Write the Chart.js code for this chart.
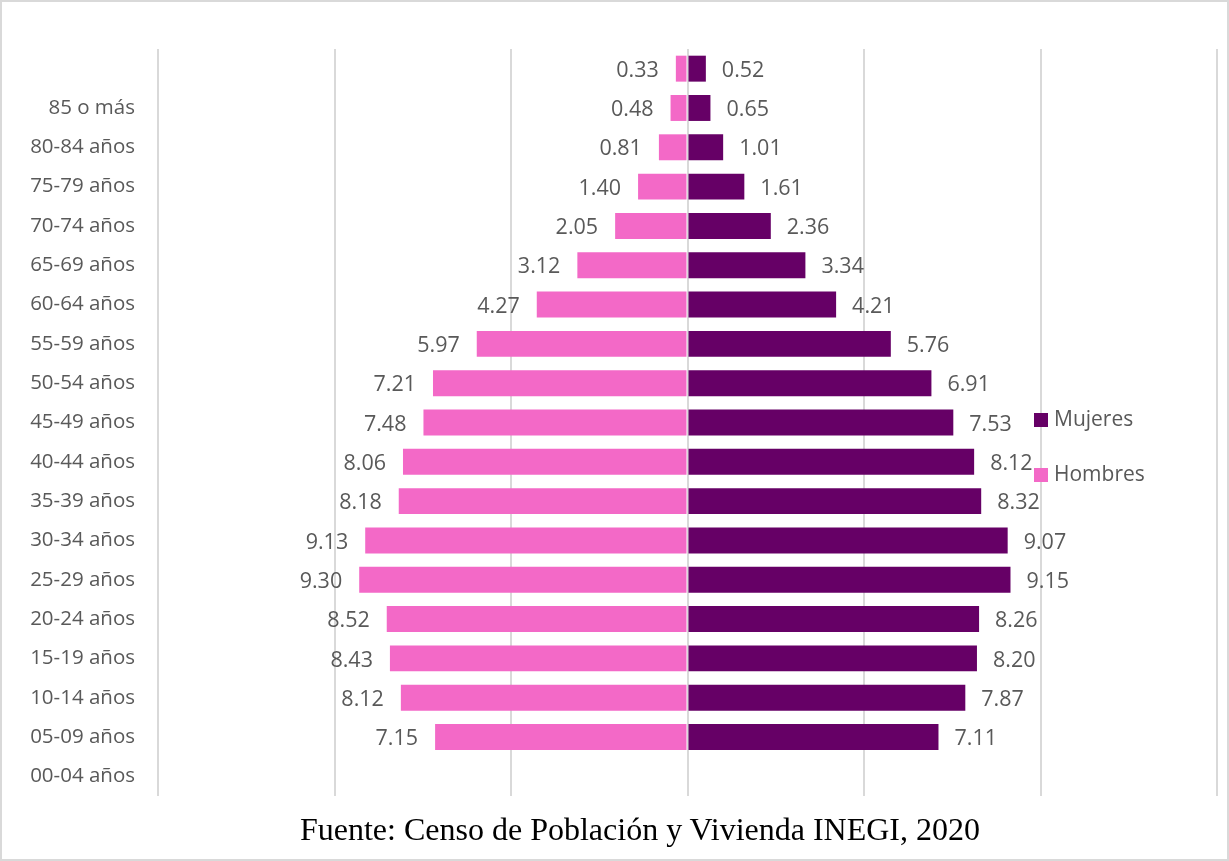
<!DOCTYPE html>
<html>
<head>
<meta charset="utf-8">
<script src="https://cdn.jsdelivr.net/npm/chart.js@4"></script>
<style>
  html, body { margin: 0; padding: 0; background: #fff; overflow: hidden; }
  #wrap { position: relative; width: 1229px; height: 861px; box-sizing: border-box; border: 2px solid #d9d9d9; overflow: hidden; }
  #c { position: absolute; left: -2px; top: -2px; }
  #foot { position: absolute; left: 48px; width: 1180px; top: 808px; text-align: center; line-height: 38px;
          font-family: "Liberation Serif", "Times New Roman", serif; font-size: 32px; color: #000; }
</style>
</head>
<body>
<div id="wrap">
  <canvas id="c" width="1229" height="861"></canvas>
  <div id="foot">Fuente: Censo de Población y Vivienda INEGI, 2020</div>
</div>
<script>
const categories = ["", "85 o más", "80-84 años", "75-79 años", "70-74 años", "65-69 años", "60-64 años",
  "55-59 años", "50-54 años", "45-49 años", "40-44 años", "35-39 años", "30-34 años", "25-29 años",
  "20-24 años", "15-19 años", "10-14 años", "05-09 años", "00-04 años"];
const hombres = [0.33, 0.48, 0.81, 1.40, 2.05, 3.12, 4.27, 5.97, 7.21, 7.48, 8.06, 8.18, 9.13, 9.30, 8.52, 8.43, 8.12, 7.15, null];
const mujeres = [0.52, 0.65, 1.01, 1.61, 2.36, 3.34, 4.21, 5.76, 6.91, 7.53, 8.12, 8.32, 9.07, 9.15, 8.26, 8.20, 7.87, 7.11, null];
const seriesNames = ["Hombres", "Mujeres"];
const colors = { Hombres: "#F369C7", Mujeres: "#660066" };

const FONT = '"Open Sans", "Noto Sans", sans-serif';
const TEXT = '#595959';

const labelPlugin = {
  id: 'barLabels',
  afterDatasetsDraw(chart) {
    const ctx = chart.ctx;
    ctx.save();
    ctx.font = '21.5px ' + FONT;
    ctx.fillStyle = TEXT;
    ctx.textBaseline = 'middle';
    chart.data.datasets.forEach((ds, di) => {
      const meta = chart.getDatasetMeta(di);
      const src = di === 0 ? hombres : mujeres;
      meta.data.forEach((el, i) => {
        const v = src[i];
        if (v === null || v === undefined) return;
        const txt = v.toFixed(2);
        if (di === 0) {
          ctx.textAlign = 'right';
          ctx.fillText(txt, el.x - 17, el.y + 2);
        } else {
          ctx.textAlign = 'left';
          ctx.fillText(txt, el.x + 16, el.y + 2);
        }
      });
    });
    // legend
    ctx.font = '21px ' + FONT;
    ctx.textAlign = 'left';
    const leg = [["Mujeres", 413], ["Hombres", 468]];
    leg.forEach(([name, y]) => {
      ctx.fillStyle = colors[name];
      ctx.fillRect(1034, y, 14, 14);
      ctx.fillStyle = TEXT;
      ctx.fillText(name, 1054, y + 7);
    });
    ctx.restore();
  }
};

new Chart(document.getElementById('c'), {
  type: 'bar',
  data: {
    labels: categories,
    datasets: [
      { label: seriesNames[0], data: hombres.map(v => v === null ? null : -v), backgroundColor: colors.Hombres,
        borderWidth: 0, barPercentage: 0.66, categoryPercentage: 1, stack: 's' },
      { label: seriesNames[1], data: mujeres, backgroundColor: colors.Mujeres,
        borderWidth: 0, barPercentage: 0.66, categoryPercentage: 1, stack: 's' }
    ]
  },
  options: {
    indexAxis: 'y',
    responsive: false,
    animation: false,
    layout: { padding: { left: 0, right: 12, top: 49, bottom: 65 } },
    plugins: { legend: { display: false }, tooltip: { enabled: false } },
    scales: {
      x: {
        stacked: true, min: -15, max: 15,
        ticks: { display: false, stepSize: 5 },
        grid: { color: '#d9d9d9', lineWidth: 2, drawTicks: false },
        border: { display: false }
      },
      y: {
        stacked: true,
        grid: { display: false, drawTicks: false },
        border: { display: false },
        ticks: { font: { family: FONT, size: 20.5 }, color: TEXT, padding: 23 },
        afterFit(scale) { scale.width = 158; }
      }
    }
  },
  plugins: [labelPlugin]
});
</script>
</body>
</html>
